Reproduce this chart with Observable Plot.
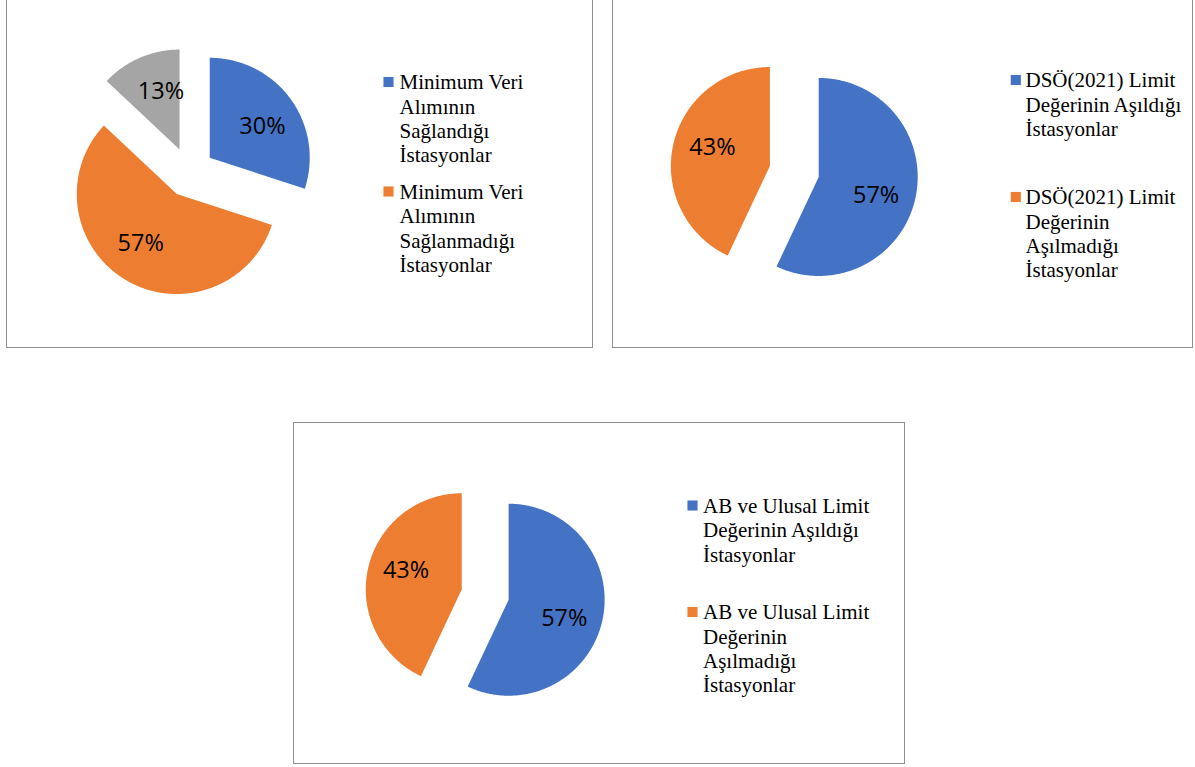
<!DOCTYPE html>
<html>
<head>
<meta charset="utf-8">
<script src="https://cdn.jsdelivr.net/npm/d3@7"></script>
<script src="https://cdn.jsdelivr.net/npm/@observablehq/plot@0.6"></script>
<style>
  html, body { margin: 0; padding: 0; background: #fff; }
  #page { position: relative; width: 1195px; height: 767px; overflow: hidden; background: #fff; }
  .box { position: absolute; border: 1px solid #8f8f8f; box-sizing: border-box; }
  #chart { position: absolute; left: 0; top: 0; }
  #chart svg { background: transparent; }
</style>
</head>
<body>
<div id="page">
  <div class="box" style="left:6px;top:-10px;width:587px;height:358px"></div>
  <div class="box" style="left:612px;top:-10px;width:581px;height:358px"></div>
  <div class="box" style="left:293px;top:422px;width:612px;height:342px"></div>
  <div id="chart"></div>
</div>
<script>
// ---------- DATA ----------
const sliceColors = ["#4472C4", "#ED7D31", "#A5A5A5"];

const pie1Categories = ["Minimum Veri Alımının Sağlandığı İstasyonlar", "Minimum Veri Alımının Sağlanmadığı İstasyonlar", "(gri dilim)"];
const pie1Values = [30, 57, 13];
const pie1Legend = ["Minimum Veri\nAlımının\nSağlandığı\nİstasyonlar", "Minimum Veri\nAlımının\nSağlanmadığı\nİstasyonlar"];

const pie2Categories = ["DSÖ(2021) Limit Değerinin Aşıldığı İstasyonlar", "DSÖ(2021) Limit Değerinin Aşılmadığı İstasyonlar"];
const pie2Values = [57, 43];
const pie2Legend = ["DSÖ(2021) Limit\nDeğerinin Aşıldığı\nİstasyonlar", "DSÖ(2021) Limit\nDeğerinin\nAşılmadığı\nİstasyonlar"];

const pie3Categories = ["AB ve Ulusal Limit Değerinin Aşıldığı İstasyonlar", "AB ve Ulusal Limit Değerinin Aşılmadığı İstasyonlar"];
const pie3Values = [57, 43];
const pie3Legend = ["AB ve Ulusal Limit\nDeğerinin Aşıldığı\nİstasyonlar", "AB ve Ulusal Limit\nDeğerinin\nAşılmadığı\nİstasyonlar"];

// ---------- LAYOUT ----------
const pies = [
  {id: "p1", cats: pie1Categories, values: pie1Values, legend: pie1Legend,
   cx: 189, cy: 172, r: 100, explode: 25, legendX: 388, legendTextX: 399, legendBaselines: [86.5, 196]},
  {id: "p2", cats: pie2Categories, values: pie2Values, legend: pie2Legend,
   cx: 793.8, cy: 171, r: 99, explode: 25, legendX: 1015.3, legendTextX: 1025, legendBaselines: [84.5, 201.5]},
  {id: "p3", cats: pie3Categories, values: pie3Values, legend: pie3Legend,
   cx: 484.7, cy: 594, r: 96, explode: 24, legendX: 692, legendTextX: 702.5, legendBaselines: [510, 616.5]}
];

const legendFont = 21;
const labelShift = 4 * Math.PI / 180;

const slicePts = [];
const labels = [];
const legendItems = [];
for (const p of pies) {
  const total = d3.sum(p.values);
  let acc = 0;
  p.values.forEach((v, i) => {
    const a0 = acc / total * 2 * Math.PI;
    const a1 = (acc + v) / total * 2 * Math.PI;
    acc += v;
    const m = (a0 + a1) / 2;
    const ax = p.cx + p.explode * Math.sin(m);
    const ay = p.cy - p.explode * Math.cos(m);
    const id = p.id + "-" + i;
    const color = sliceColors[i];
    slicePts.push({id, color, x: ax, y: ay});
    const n = Math.max(2, Math.ceil((a1 - a0) / (Math.PI / 360)));
    for (let k = 0; k <= n; k++) {
      const a = a0 + (a1 - a0) * k / n;
      slicePts.push({id, color, x: ax + p.r * Math.sin(a), y: ay - p.r * Math.cos(a)});
    }
    const d = p.explode + 0.61 * p.r;
    const lm = m + labelShift;
    labels.push({x: p.cx + d * Math.sin(lm), y: p.cy - d * Math.cos(lm), text: v + "%"});
  });
  p.legend.forEach((t, i) => {
    legendItems.push({
      sx: p.legendX, sy: p.legendBaselines[i] - 5,
      tx: p.legendTextX, ty: p.legendBaselines[i] - 0.71 * legendFont,
      text: t, color: sliceColors[i]
    });
  });
}

const chart = Plot.plot({
  width: 1195,
  height: 767,
  margin: 0,
  style: {background: "transparent"},
  x: {domain: [0, 1195], range: [0, 1195], axis: null},
  y: {domain: [0, 767], range: [0, 767], axis: null},
  color: {type: "identity"},
  marks: [
    Plot.line(slicePts, {x: "x", y: "y", z: "id", fill: "color", stroke: "none", curve: "linear-closed"}),
    Plot.text(labels, {x: "x", y: "y", text: "text", fontSize: 23.5, fontFamily: "'Open Sans', sans-serif", fill: "#000", textAnchor: "middle"}),
    Plot.dot(legendItems, {x: "sx", y: "sy", fill: "color", symbol: "square", r: 5.7, stroke: "none"}),
    Plot.text(legendItems, {x: "tx", y: "ty", text: "text", textAnchor: "start", lineAnchor: "top", lineHeight: 1.16,
      fontSize: legendFont, fontFamily: "'Liberation Serif', 'Times New Roman', serif", fill: "#000"})
  ]
});
document.getElementById("chart").appendChild(chart);
</script>
</body>
</html>
